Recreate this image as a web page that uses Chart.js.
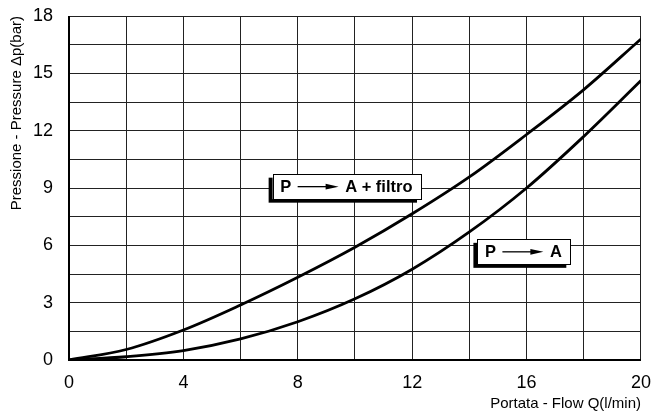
<!DOCTYPE html>
<html>
<head>
<meta charset="utf-8">
<script src="https://cdn.jsdelivr.net/npm/chart.js@4/dist/chart.umd.min.js"></script>
<style>
  html, body { margin: 0; padding: 0; background: #fff; }
  #wrap { position: relative; width: 651px; height: 414px; }
</style>
</head>
<body>
<div id="wrap"><canvas id="c"></canvas></div>
<script>
  // ── data ──
  const flowQ      = [0, 2, 4, 6, 8, 10, 12, 14, 16, 18, 20];
  const dpFiltro   = [0, 0.55, 1.57, 2.88, 4.33, 5.9, 7.65, 9.58, 11.8, 14.15, 16.8];
  const dpPA       = [0, 0.17, 0.49, 1.1, 2.0, 3.2, 4.75, 6.7, 9.0, 11.7, 14.62];

  const xTickLabels = ['0', '4', '8', '12', '16', '20'];
  const yTickLabels = ['0', '3', '6', '9', '12', '15', '18'];

  // curve tags: "P ——► A + filtro" / "P ——► A"
  const tagFrom  = ['P', 'P'];
  const tagTo    = ['A + filtro', 'A'];
  const tagX     = [7.12, 14.28];   // left edge of box (l/min)
  const tagY     = [9.07, 5.66];    // centre of box (bar)

  const FONT = '"Liberation Sans", Arial, Helvetica, sans-serif';

  // ── boxed tags with shadow ──
  const tagPlugin = {
    id: 'tags',
    afterDatasetsDraw(chart) {
      const ctx = chart.ctx;
      const xs = chart.scales.x, ys = chart.scales.y;
      ctx.save();
      ctx.font = 'bold 16.5px ' + FONT;
      ctx.textBaseline = 'middle';
      tagFrom.forEach((from, i) => {
        const left = xs.getPixelForValue(tagX[i]);
        const cy = ys.getPixelForValue(tagY[i]);
        const h = 25, padL = 7.5, padR = 8.5, gap1 = 6.5, gap2 = 6.5, arrow = 41;
        const wFrom = ctx.measureText(from).width;
        const wTo = ctx.measureText(tagTo[i]).width;
        const w = padL + wFrom + gap1 + arrow + gap2 + wTo + padR;
        const top = cy - h / 2;
        // shadow
        ctx.fillStyle = '#000';
        ctx.fillRect(left - 4, top + 3.5, w, h);
        // box
        ctx.fillStyle = '#fff';
        ctx.fillRect(left, top, w, h);
        ctx.strokeStyle = '#000';
        ctx.lineWidth = 1;
        ctx.strokeRect(Math.round(left) + 0.5, Math.round(top) + 0.5, Math.round(w), h);
        // text
        ctx.fillStyle = '#000';
        let x = left + padL;
        ctx.fillText(from, x, cy + 1);
        x += wFrom + gap1;
        // arrow
        ctx.beginPath();
        ctx.lineWidth = 1.3;
        ctx.moveTo(x, cy);
        ctx.lineTo(x + arrow - 12, cy);
        ctx.stroke();
        ctx.beginPath();
        ctx.moveTo(x + arrow - 13, cy - 2.8);
        ctx.lineTo(x + arrow, cy);
        ctx.lineTo(x + arrow - 13, cy + 2.8);
        ctx.closePath();
        ctx.fill();
        x += arrow + gap2;
        ctx.fillText(tagTo[i], x, cy + 1);
      });
      ctx.restore();
    }
  };

  // ── thick left / bottom axis lines ──
  const framePlugin = {
    id: 'frame',
    afterDatasetsDraw(chart) {
      const { ctx, chartArea: a } = chart;
      ctx.save();
      ctx.strokeStyle = '#000';
      ctx.lineWidth = 2;
      ctx.beginPath();
      ctx.moveTo(a.left, a.top);
      ctx.lineTo(a.left, a.bottom);
      ctx.lineTo(a.right, a.bottom);
      ctx.stroke();
      ctx.restore();
    }
  };

  const curve = (label, values) => ({
    label,
    data: flowQ.map((q, i) => ({ x: q, y: values[i] })),
    borderColor: '#000',
    borderWidth: 2.8,
    pointRadius: 0,
    tension: 0.35,
    fill: false,
  });

  new Chart(document.getElementById('c'), {
    type: 'line',
    data: {
      datasets: [
        curve('P → A + filtro', dpFiltro),
        curve('P → A', dpPA),
      ],
    },
    options: {
      responsive: true,
      maintainAspectRatio: false,
      animation: false,
      layout: { padding: { left: 0, top: 16, right: 0, bottom: 1 } },
      plugins: {
        legend: { display: false },
        tooltip: { enabled: false },
      },
      scales: {
        x: {
          type: 'linear',
          min: 0,
          max: 20,
          grid: { color: '#222', lineWidth: 1, tickLength: 12, tickColor: 'rgba(0,0,0,0)' },
          border: { display: false },
          ticks: {
            stepSize: 2,
            padding: 0,
            maxRotation: 0,
            autoSkip: false,
            color: '#000',
            font: { family: FONT, size: 18 },
            callback: v => (xTickLabels.includes(String(v)) ? String(v) : ''),
          },
          title: {
            display: true,
            text: 'Portata - Flow Q(l/min)',
            align: 'end',
            color: '#000',
            font: { family: FONT, size: 15 },
            padding: { top: 0, bottom: 0 },
          },
          afterFit: s => { s.height = 53; },
        },
        y: {
          type: 'linear',
          min: 0,
          max: 18,
          grid: { color: '#222', lineWidth: 1, tickLength: 16, tickColor: 'rgba(0,0,0,0)' },
          border: { display: false },
          ticks: {
            stepSize: 1.5,
            padding: 0,
            autoSkip: false,
            color: '#000',
            font: { family: FONT, size: 18 },
            callback: v => (yTickLabels.includes(String(v)) ? String(v) : ''),
          },
          title: {
            display: true,
            text: 'Pressione - Pressure Δp(bar)',
            align: 'end',
            color: '#000',
            font: { family: FONT, size: 15 },
            padding: { top: 8, bottom: 0 },
          },
          afterFit: s => { s.width = 69; },
        },
      },
    },
    plugins: [tagPlugin, framePlugin],
  });
</script>
</body>
</html>
